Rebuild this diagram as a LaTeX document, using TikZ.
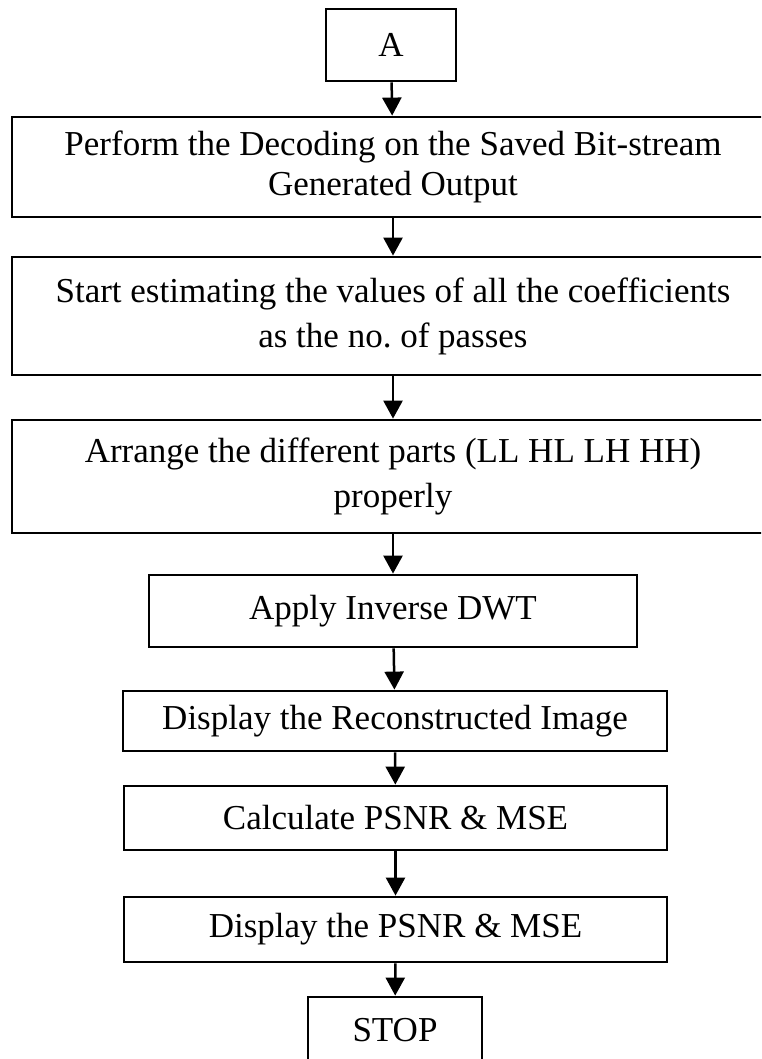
\documentclass[tikz,border=0pt]{standalone}
\usepackage{fontspec}
\setmainfont{Liberation Serif}
\usetikzlibrary{arrows.meta}
\begin{document}
\begin{tikzpicture}[x=1pt,y=-1pt,
  box/.style={draw, line width=2.8pt, inner sep=0pt, align=center,
              font=\fontsize{35}{45}\selectfont},
  flow/.style={line width=2.5pt, -{Triangle[width=19pt,length=18pt]}}]
\useasboundingbox (0,0) rectangle (761,1059);
\clip (0,0) rectangle (761,1059);
\fill[white] (0,0) rectangle (761,1059);

% process steps, top to bottom
\node[box, minimum width=130pt, minimum height=72pt] (a) at (391,45) {A};
\node[box, minimum width=762pt, minimum height=100pt,
      font=\fontsize{35}{40}\selectfont] (decode) at (393,167)
  {Perform the Decoding on the Saved Bit-stream\\Generated Output};
\node[box, minimum width=762pt, minimum height=118pt] (estimate) at (393,316)
  {Start estimating the values of all the coefficients\\as the no.\ of passes};
\node[box, minimum width=762pt, minimum height=113pt] (arrange) at (393,476.5)
  {Arrange the different parts (LL HL LH HH)\\properly};
\node[box, minimum width=488pt, minimum height=72pt] (idwt) at (393,611)
  {Apply Inverse DWT};
\node[box, minimum width=544pt, minimum height=60pt] (show) at (395,721)
  {Display the Reconstructed Image};
\node[box, minimum width=543pt, minimum height=64pt] (calc) at (395.5,818)
  {Calculate PSNR \& MSE};
\node[box, minimum width=543pt, minimum height=65pt] (report) at (395.5,929.5)
  {Display the PSNR \& MSE};
\node[box, minimum width=174pt, minimum height=66pt] (stop) at (395,1030)
  {STOP};

% connectors
\draw[flow] (a) -- (decode);
\draw[flow] (decode) -- (estimate);
\draw[flow] (estimate) -- (arrange);
\draw[flow] (arrange) -- (idwt);
\draw[flow] (idwt) -- (show);
\draw[flow] (show) -- (calc);
\draw[flow] (calc) -- (report);
\draw[flow] (report) -- (stop);
\end{tikzpicture}
\end{document}
